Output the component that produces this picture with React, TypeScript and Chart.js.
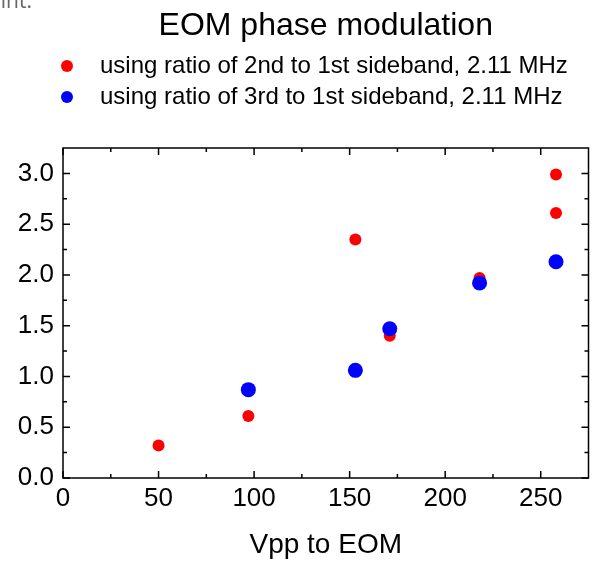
import React, { useEffect, useRef } from 'react';
import { Chart, registerables } from 'chart.js';

Chart.register(...registerables);

const chartTitle = 'EOM phase modulation';
const xAxisTitle = 'Vpp to EOM';
const series2Label = 'using ratio of 2nd to 1st sideband, 2.11 MHz';
const series3Label = 'using ratio of 3rd to 1st sideband, 2.11 MHz';

const redX = [50, 97, 153, 171, 218, 258, 258];
const redY = [0.32, 0.61, 2.35, 1.4, 1.97, 2.61, 2.99];
const blueX = [97, 153, 171, 218, 258];
const blueY = [0.87, 1.06, 1.47, 1.92, 2.13];

const xTicks = [0, 50, 100, 150, 200, 250];
const yTicks = [0, 0.5, 1.0, 1.5, 2.0, 2.5, 3.0];
const xMinorTicks = [25, 75, 125, 175, 225];
const yMinorTicks = [0.25, 0.75, 1.25, 1.75, 2.25, 2.75];

const FONT = '"Liberation Sans", Arial, Helvetica, sans-serif';

const framePlugin = {
  id: 'frameTicks',
  beforeDatasetsDraw(chart: any) {
    const { ctx, chartArea: a, scales } = chart;
    const x = scales.x;
    const y = scales.y;
    ctx.save();
    ctx.strokeStyle = '#000';
    ctx.lineWidth = 1.5;
    ctx.strokeRect(a.left, a.top, a.right - a.left, a.bottom - a.top);
    ctx.beginPath();
    const tx = (v: number, len: number) => {
      const p = x.getPixelForValue(v);
      ctx.moveTo(p, a.bottom);
      ctx.lineTo(p, a.bottom - len);
      ctx.moveTo(p, a.top);
      ctx.lineTo(p, a.top + len);
    };
    const ty = (v: number, len: number) => {
      const p = y.getPixelForValue(v);
      ctx.moveTo(a.left, p);
      ctx.lineTo(a.left + len, p);
      ctx.moveTo(a.right, p);
      ctx.lineTo(a.right - len, p);
    };
    xTicks.forEach((v) => tx(v, 7));
    xMinorTicks.forEach((v) => tx(v, 4));
    yTicks.forEach((v) => ty(v, 7));
    yMinorTicks.forEach((v) => ty(v, 4));
    ctx.stroke();
    ctx.restore();
  },
  afterDraw(chart: any) {
    const { ctx, chartArea: a } = chart;
    const ds = chart.data.datasets;
    ctx.save();
    ctx.fillStyle = '#000';
    ctx.textBaseline = 'alphabetic';
    ctx.textAlign = 'center';
    ctx.font = `32px ${FONT}`;
    ctx.fillText(chartTitle, (a.left + a.right) / 2, 35);

    ctx.textAlign = 'left';
    ctx.font = `24px ${FONT}`;
    const rows = [
      { label: ds[0].label, color: ds[0].backgroundColor, cy: 66 },
      { label: ds[1].label, color: ds[1].backgroundColor, cy: 97 },
    ];
    rows.forEach((r) => {
      ctx.fillStyle = r.color;
      ctx.beginPath();
      ctx.arc(67, r.cy, 6, 0, Math.PI * 2);
      ctx.fill();
      ctx.fillStyle = '#000';
      ctx.fillText(r.label, 100, r.cy + 7);
    });
    ctx.restore();
  },
};

export default function App() {
  const ref = useRef<HTMLCanvasElement>(null);

  useEffect(() => {
    if (!ref.current) return;
    Chart.defaults.font.family = FONT;
    const chart = new Chart(ref.current, {
      type: 'scatter',
      data: {
        datasets: [
          {
            label: series2Label,
            data: redX.map((x, i) => ({ x, y: redY[i] })),
            backgroundColor: '#ff0000',
            borderColor: '#ff0000',
            pointRadius: 6,
            pointBorderWidth: 0,
            order: 1,
          },
          {
            label: series3Label,
            data: blueX.map((x, i) => ({ x, y: blueY[i] })),
            backgroundColor: '#0000ff',
            borderColor: '#0000ff',
            pointRadius: 7.5,
            pointBorderWidth: 0,
            order: 0,
          },
        ],
      },
      options: {
        animation: false,
        responsive: true,
        maintainAspectRatio: false,
        events: [],
        layout: { padding: { top: 148, right: 7, left: 0, bottom: 0 } },
        plugins: {
          legend: { display: false },
          title: { display: false },
          tooltip: { enabled: false },
        },
        scales: {
          x: {
            type: 'linear',
            min: 0,
            max: 275,
            grid: { display: false, drawTicks: false },
            border: { display: false },
            afterBuildTicks: (s: any) => {
              s.ticks = xTicks.map((v) => ({ value: v }));
            },
            afterFit: (s: any) => {
              s.height = 83;
            },
            ticks: {
              color: '#000',
              font: { size: 26 },
              padding: 5,
              maxRotation: 0,
              autoSkip: false,
            },
            title: {
              display: true,
              text: xAxisTitle,
              color: '#000',
              font: { size: 28, lineHeight: 1.1 },
              padding: { top: 0, bottom: 0 },
            },
          },
          y: {
            type: 'linear',
            min: 0,
            max: 3.25,
            grid: { display: false, drawTicks: false },
            border: { display: false },
            afterBuildTicks: (s: any) => {
              s.ticks = yTicks.map((v) => ({ value: v }));
            },
            afterFit: (s: any) => {
              s.width = 63;
            },
            ticks: {
              color: '#000',
              font: { size: 26 },
              padding: 9,
              autoSkip: false,
              callback: (v: any) => Number(v).toFixed(1),
            },
          },
        },
      },
      plugins: [framePlugin],
    });
    return () => chart.destroy();
  }, []);

  return (
    <div
      style={{
        position: 'fixed',
        left: 0,
        top: 0,
        width: 596,
        height: 561,
        background: '#fff',
        overflow: 'hidden',
      }}
    >
      <span
        style={{
          position: 'absolute',
          right: 564,
          top: -10,
          fontFamily: '"Open Sans", sans-serif',
          fontSize: 21,
          lineHeight: '21px',
          color: '#666',
          whiteSpace: 'nowrap',
        }}
      >
        point.
      </span>
      <canvas ref={ref} style={{ display: 'block', width: 596, height: 561 }} />
    </div>
  );
}
